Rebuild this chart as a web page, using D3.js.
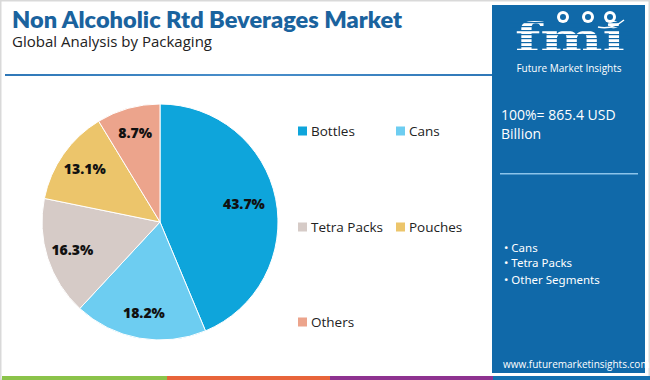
<!DOCTYPE html>
<html><head><meta charset="utf-8">
<script src="https://cdn.jsdelivr.net/npm/d3@7/dist/d3.min.js"></script>
<style>
html,body{margin:0;padding:0;background:#fff;}
svg{display:block;font-family:"Open Sans","Noto Sans",sans-serif;}
</style></head>
<body>
<svg id="c" width="650" height="380"></svg>
<script>
const categories = ["Bottles", "Cans", "Tetra Packs", "Pouches", "Others"];
const shares = [43.7, 18.2, 16.3, 13.1, 8.7];
const colors = ["#0ea5db", "#6dcdf1", "#d6cbc7", "#ecc56b", "#eca48c"];
const title = "Non Alcoholic Rtd Beverages Market";
const subtitle = "Global Analysis by Packaging";
const totalText = ["100%= 865.4 USD", "Billion"];
const bullets = ["Cans", "Tetra Packs", "Other Segments"];

const svg = d3.select("#c");

// outer frame
svg.append("rect").attr("x",0.5).attr("y",0.5).attr("width",649).attr("height",379)
  .attr("fill","#fff").attr("stroke","#d9d9d9").attr("stroke-width",2);

// title
svg.append("text").attr("x",12).attr("y",28).attr("font-size",22).attr("font-weight",800)
  .attr("font-family","Lato, 'Open Sans', sans-serif")
  .attr("textLength",390).attr("lengthAdjust","spacingAndGlyphs")
  .attr("fill","#1a639e").text(title);
svg.append("text").attr("x",12).attr("y",47).attr("font-size",14.5).attr("fill","#222")
  .attr("textLength",200).attr("lengthAdjust","spacingAndGlyphs").text(subtitle);

// header rule
const lg = svg.append("defs").append("linearGradient").attr("id","rule");
lg.append("stop").attr("offset","0%").attr("stop-color","#2f78b8");
lg.append("stop").attr("offset","50%").attr("stop-color","#4a8fcb");
lg.append("stop").attr("offset","100%").attr("stop-color","#2f78b8");
svg.append("rect").attr("x",5).attr("y",74).attr("width",488).attr("height",2).attr("fill","url(#rule)");

// bottom colour strip
const strip = [["#8bc34a",2,167],["#e8643a",167,330],["#8e3290",330,493],["#1470b0",493,650]];
svg.selectAll(".strip").data(strip).join("rect").attr("class","strip")
  .attr("x",d=>d[1]).attr("y",376).attr("width",d=>d[2]-d[1]).attr("height",4).attr("fill",d=>d[0]);

// right panel
svg.append("rect").attr("x",492).attr("y",5).attr("width",153).attr("height",368).attr("fill","#1069a9");
// logo
const logo = svg.append("g");
logo.append("text").attr("x",515).attr("y",51)
  .attr("font-size",40).attr("font-weight",700).attr("font-family","'DejaVu Serif', serif")
  .attr("textLength",110).attr("lengthAdjust","spacingAndGlyphs")
  .attr("fill","#fff").text("fmi");
for (let y=22; y<56; y+=4) {
  logo.append("rect").attr("x",510).attr("y",y).attr("width",120).attr("height",1.2).attr("fill","#1069a9");
}
[[563,17],[588,17],[610,17]].forEach(p=>{
  logo.append("circle").attr("cx",p[0]).attr("cy",p[1]).attr("r",6).attr("fill","#fff");
  logo.append("circle").attr("cx",p[0]).attr("cy",p[1]).attr("r",3).attr("fill","#1069a9");
});
logo.append("path").attr("d","M598,27 Q612,30 624,20").attr("fill","none").attr("stroke","#fff").attr("stroke-width",1.5);
logo.append("text").attr("x",569).attr("y",72).attr("text-anchor","middle").attr("font-size",10)
  .attr("fill","#fff").text("Future Market Insights");

svg.selectAll(".tot").data(totalText).join("text").attr("class","tot")
  .attr("x",501).attr("y",(d,i)=>120+i*19).attr("font-size",14).attr("fill","#fff").text(d=>d);
svg.append("rect").attr("x",500).attr("y",173).attr("width",138).attr("height",1.5).attr("fill","#8cc4ea");

svg.selectAll(".bul").data(bullets).join("text").attr("class","bul")
  .attr("x",504).attr("y",(d,i)=>[252,267,284][i]).attr("font-size",11.5)
  .attr("font-family","'Noto Sans', sans-serif").attr("fill","#fff").text(d=>"• "+d);
svg.append("text").attr("x",503).attr("y",368).attr("font-size",10).attr("fill","#fff")
  .text("www.futuremarketinsights.com");

// pie
const cx = 160, cy = 222, R = 118;
const data = categories.map((c,i)=>({cat:c, v:shares[i], col:colors[i]}));
const pie = d3.pie().value(d=>d.v).sort(null);
const arcs = pie(data);
const arc = d3.arc().innerRadius(0).outerRadius(R);
const labelArc = d3.arc().innerRadius(R*0.78).outerRadius(R*0.78);
const g = svg.append("g").attr("transform",`translate(${cx},${cy})`);
g.selectAll("path").data(arcs).join("path").attr("d",arc).attr("fill",d=>d.data.col)
  .attr("stroke","#fff").attr("stroke-width",1);
g.selectAll(".lbl").data(arcs).join("text").attr("class","lbl")
  .attr("transform",d=>{const c=labelArc.centroid(d); if(d.index===0){c[0]*=0.93;} return `translate(${c})`;})
  .attr("text-anchor","middle").attr("dy","0.35em")
  .attr("font-size",14).attr("font-weight",800).attr("fill","#111")
  .text(d=>d.data.v.toFixed(1)+"%");

// legend
const legPos = [[298,131],[396,131],[298,227],[396,227],[298,322]];
const leg = svg.selectAll(".leg").data(data).join("g").attr("class","leg")
  .attr("transform",(d,i)=>`translate(${legPos[i][0]},${legPos[i][1]})`);
leg.append("rect").attr("x",0).attr("y",-4.5).attr("width",9).attr("height",9).attr("fill",d=>d.col);
leg.append("text").attr("x",13).attr("y",0).attr("dy","0.35em").attr("font-size",13.5)
  .attr("fill","#222").text(d=>d.cat);
</script>
</body></html>
